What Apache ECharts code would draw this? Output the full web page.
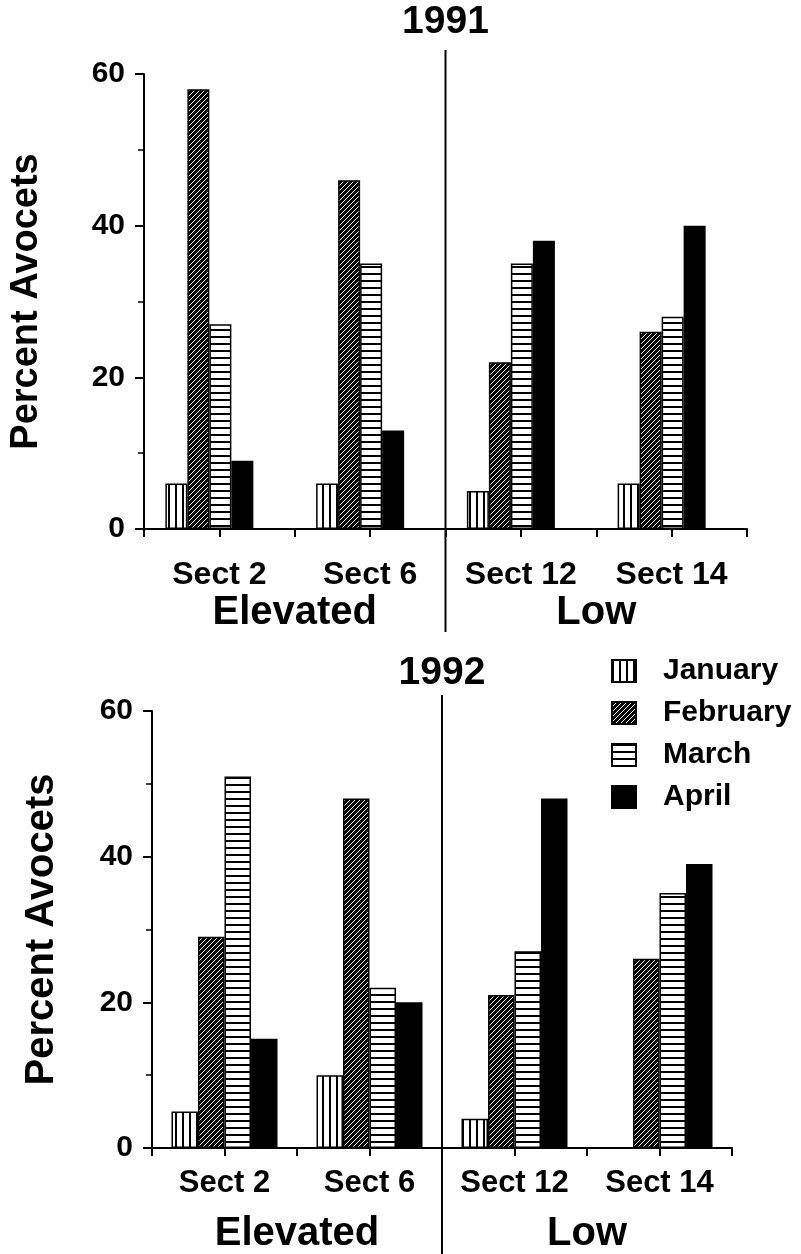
<!DOCTYPE html>
<html>
<head>
<meta charset="utf-8">
<script src="https://cdn.jsdelivr.net/npm/echarts@6/dist/echarts.min.js"></script>
<style>
html,body{margin:0;padding:0;background:#fff;}
#chart{width:801px;height:1254px;}
</style>
</head>
<body>
<div id="chart"></div>
<script>
// ---- data ----
const categories = ['Sect 2', 'Sect 6', 'Sect 12', 'Sect 14'];
const habitatGroups = ['Elevated', 'Low'];
const months = ['January', 'February', 'March', 'April'];
const yearLabels = ['1991', '1992'];

const y1991_January  = [6, 6, 5, 6];
const y1991_February = [58, 46, 22, 26];
const y1991_March    = [27, 35, 35, 28];
const y1991_April    = [9, 13, 38, 40];

const y1992_January  = [5, 10, 4, 0];
const y1992_February = [29, 48, 21, 26];
const y1992_March    = [51, 22, 27, 35];
const y1992_April    = [15, 20, 48, 39];

// ---- patterns ----
function pattern(kind) {
  const c = document.createElement('canvas');
  let ctx;
  if (kind === 'v') {
    c.width = 7; c.height = 4; ctx = c.getContext('2d');
    ctx.fillStyle = '#fff'; ctx.fillRect(0, 0, 7, 4);
    ctx.fillStyle = '#000'; ctx.fillRect(0, 0, 2, 4);
  } else if (kind === 'd') {
    c.width = 5; c.height = 5; ctx = c.getContext('2d');
    ctx.fillStyle = '#000'; ctx.fillRect(0, 0, 5, 5);
    ctx.strokeStyle = '#fff'; ctx.lineWidth = 1;
    [-5, 0, 5].forEach(k => { ctx.beginPath(); ctx.moveTo(k, 5); ctx.lineTo(k + 5, 0); ctx.stroke(); });
  } else if (kind === 'h') {
    c.width = 4; c.height = 7; ctx = c.getContext('2d');
    ctx.fillStyle = '#fff'; ctx.fillRect(0, 0, 4, 7);
    ctx.fillStyle = '#000'; ctx.fillRect(0, 0, 4, 2);
  }
  return { image: c, repeat: 'repeat' };
}
const fills = [pattern('v'), pattern('d'), pattern('h'), '#000'];

const FONT = 'Liberation Sans';
const tickSlots = categories.flatMap(c => [c + '-a', c + '-b']);

function panelAxes(g, labelMargin, labelSize, groupOffset) {
  return [
    { gridIndex: g, type: 'category', data: categories,
      axisLine: { lineStyle: { color: '#000', width: 2 } },
      axisTick: { show: false },
      axisLabel: { interval: 0, margin: labelMargin, fontSize: labelSize, fontWeight: 'bold', color: '#000', fontFamily: FONT } },
    { gridIndex: g, type: 'category', data: tickSlots, position: 'bottom',
      axisLine: { show: false },
      axisTick: { show: true, interval: 0, length: 8, lineStyle: { color: '#000', width: 2 } },
      axisLabel: { show: false } },
    { gridIndex: g, type: 'category', data: habitatGroups, position: 'bottom', offset: groupOffset,
      axisLine: { show: false }, axisTick: { show: false },
      axisLabel: { interval: 0, margin: 8, fontSize: 40, fontWeight: 'bold', color: '#000', fontFamily: FONT } }
  ];
}

function yAxisFor(g, gap, nameSize) {
  return {
    gridIndex: g, type: 'value', min: 0, max: 60, interval: 20,
    name: 'Percent Avocets', nameLocation: 'middle', nameGap: gap, nameRotate: 90,
    nameTextStyle: { fontSize: nameSize, fontWeight: 'bold', color: '#000', fontFamily: FONT },
    axisLine: { show: true, lineStyle: { color: '#000', width: 2 } },
    axisTick: { show: true, length: 9, lineStyle: { color: '#000', width: 2 } },
    minorTick: { show: true, splitNumber: 2, length: 6, lineStyle: { color: '#000', width: 1.5 } },
    splitLine: { show: false },
    axisLabel: { margin: 19, fontSize: 30, fontWeight: 'bold', color: '#000', fontFamily: FONT }
  };
}

const data1991 = [y1991_January, y1991_February, y1991_March, y1991_April];
const data1992 = [y1992_January, y1992_February, y1992_March, y1992_April];

const series = [];
months.forEach((m, i) => {
  series.push({ type: 'bar', name: m, xAxisIndex: 0, yAxisIndex: 0, data: data1991[i],
    barWidth: 22, barGap: '0%',
    itemStyle: { color: fills[i], borderColor: '#000', borderWidth: 1.5 } });
});
// spacer so each 1991 group sits slightly left of its tick, as in the original
series.push({ type: 'bar', name: 'spacer', xAxisIndex: 0, yAxisIndex: 0, silent: true,
  data: categories.map(() => null), barWidth: 20, barGap: '0%' });
months.forEach((m, i) => {
  series.push({ type: 'bar', name: m, xAxisIndex: 3, yAxisIndex: 1, data: data1992[i],
    barWidth: 26.5, barGap: '0%',
    itemStyle: { color: fills[i], borderColor: '#000', borderWidth: 1.5 } });
});

const chart = echarts.init(document.getElementById('chart'), null, { renderer: 'canvas' });
const option = {
  animation: false,
  backgroundColor: '#fff',
  textStyle: { fontFamily: FONT },
  grid: [
    { left: 142, right: 54, top: 74, bottom: 725 },
    { left: 152, right: 69, top: 711, bottom: 101 }
  ],
  xAxis: [].concat(panelAxes(0, 30, 32, 56), panelAxes(1, 20, 31, 58)),
  yAxis: [yAxisFor(0, 98, 38), yAxisFor(1, 90, 40)],
  legend: {
    data: months, orient: 'vertical', left: 606, top: 651, icon: 'rect',
    itemWidth: 24, itemHeight: 22, itemGap: 12,
    textStyle: { fontSize: 30, fontWeight: 'bold', color: '#000', fontFamily: FONT, padding: [0, 0, 0, 22] }
  },
  series: series
};
chart.setOption(option);

// divider lines between the Elevated and Low sections, and year titles
function midX(xAxisIndex) {
  const a = chart.convertToPixel({ xAxisIndex: xAxisIndex }, categories[1]);
  const b = chart.convertToPixel({ xAxisIndex: xAxisIndex }, categories[2]);
  return (a + b) / 2;
}
const d1 = midX(0), d2 = midX(3);
chart.setOption({
  graphic: [
    { type: 'line', shape: { x1: d1, y1: 50, x2: d1, y2: 632 }, style: { stroke: '#000', lineWidth: 2 } },
    { type: 'line', shape: { x1: d2, y1: 695, x2: d2, y2: 1254 }, style: { stroke: '#000', lineWidth: 2 } },
    { type: 'text', x: d1, y: 22, style: { text: yearLabels[0], fontSize: 39, fontWeight: 'bold', fontFamily: FONT, fill: '#000', textAlign: 'center', textVerticalAlign: 'middle' } },
    { type: 'text', x: d2, y: 673, style: { text: yearLabels[1], fontSize: 39, fontWeight: 'bold', fontFamily: FONT, fill: '#000', textAlign: 'center', textVerticalAlign: 'middle' } }
  ]
});
</script>
</body>
</html>
